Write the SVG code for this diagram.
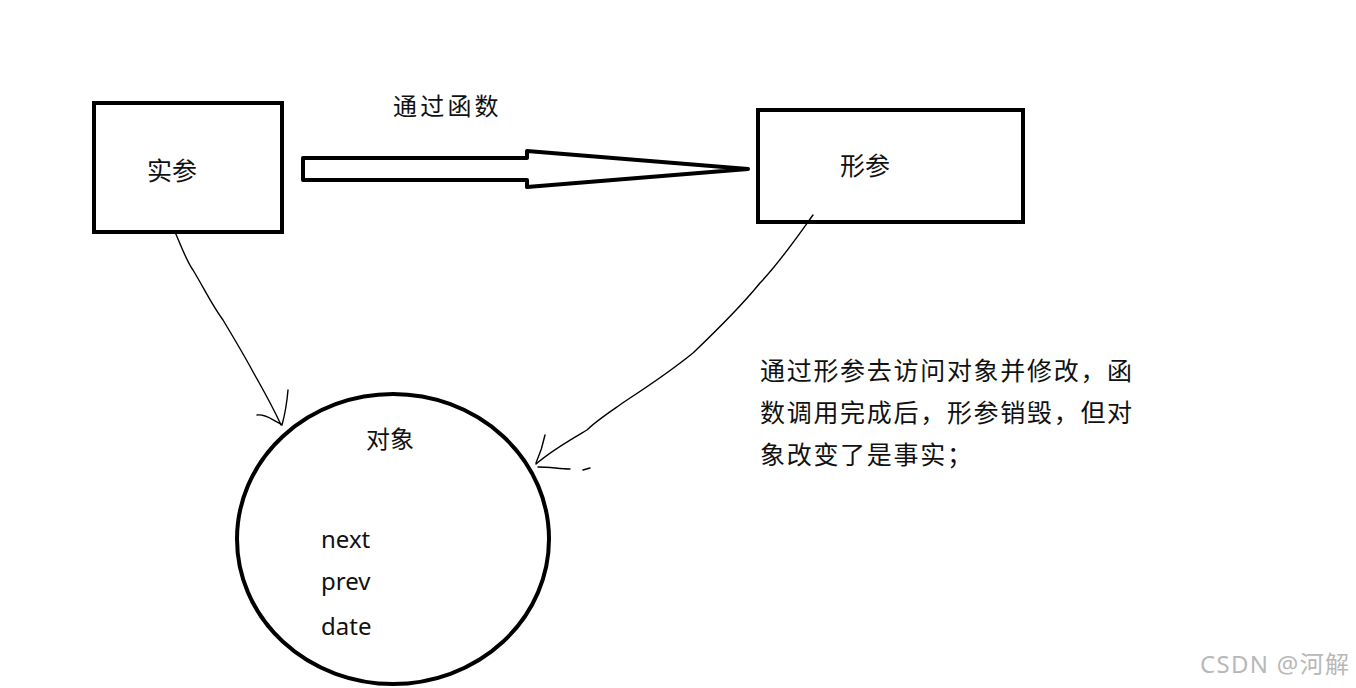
<svg xmlns="http://www.w3.org/2000/svg" width="1356" height="688" viewBox="0 0 1356 688">
<style>
.box{fill:#fff;stroke:#000;stroke-width:4}
.cn{font-family:"Noto Sans CJK SC","Noto Sans",sans-serif;fill:#111}
.en{font-family:"Noto Sans","Open Sans",sans-serif;fill:#111;font-size:24px}
.wire{fill:none;stroke:#000;stroke-width:1.4;stroke-linecap:round;stroke-linejoin:round}
</style>
<rect width="1356" height="688" fill="#fff"/>
<g id="shiCan">
<rect class="box" x="94" y="103" width="188" height="129"/>
<text class="cn" x="147" y="180" font-size="25">实参</text>
</g>
<g id="xingCan">
<rect class="box" x="758" y="110" width="265" height="112"/>
<text class="cn" x="840" y="175" font-size="25">形参</text>
</g>
<g id="duiXiang">
<ellipse cx="393" cy="539" rx="156" ry="145" fill="#fff" stroke="#000" stroke-width="4"/>
<text class="cn" x="366" y="448" font-size="24">对象</text>
<text class="en" x="321" y="548">next</text>
<text class="en" x="321" y="590">prev</text>
<text class="en" x="321" y="635">date</text>
</g>
<g id="label-func">
<text class="cn" x="393" y="115" font-size="24" letter-spacing="3.2">通过函数</text>
</g>
<g id="note">
<text class="cn" font-size="25" letter-spacing="1.7">
<tspan x="760" y="380">通过形参去访问对象并修改，函</tspan>
<tspan x="760" y="422">数调用完成后，形参销毁，但对</tspan>
<tspan x="760" y="464">象改变了是事实；</tspan>
</text>
</g>
<g id="connectors">
<path d="M303,158 L527,158 L527,151 L748,169 L527,187 L527,180 L303,180 Z" fill="#fff" stroke="#000" stroke-width="4" stroke-linejoin="round"/>
<path class="wire" d="M175,232 C182,248 187,262 193,270 C205,290 212,305 223,320 C235,340 244,355 252,370 C262,388 272,405 281,425"/>
<path class="wire" d="M288,390 C287,402 285,414 282,425 M257,415 C266,414 272,420 281,424"/>
<path class="wire" d="M813,215 C795,240 780,262 760,283 C738,310 715,332 693,353 C672,370 650,385 627,400 C610,412 597,420 587,430 C570,440 552,450 536,464"/>
<path class="wire" d="M545,435 C543,445 540,454 536,463 M538,467 C550,467 560,469 570,469 M583,470 L590,468"/>
</g>
<g id="watermark">
<text x="1200" y="673" font-family="'Noto Sans','Noto Sans CJK SC',sans-serif" font-size="24" letter-spacing="1.3" fill="#b8b8b8">CSDN @河解</text>
</g>
</svg>
